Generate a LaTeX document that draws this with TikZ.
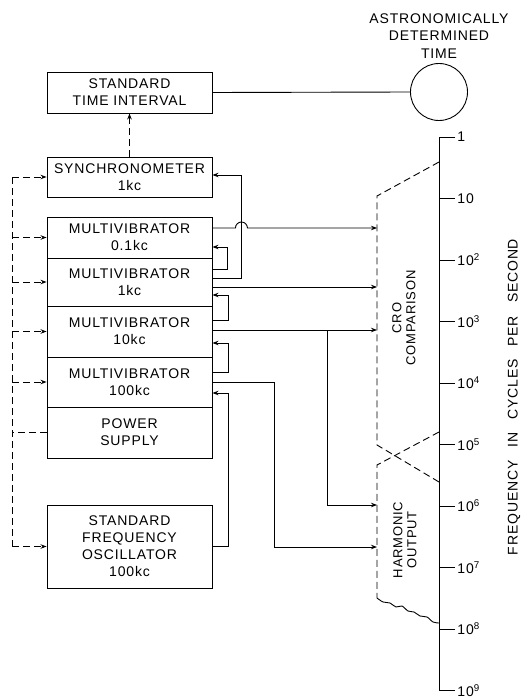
\documentclass[tikz,border=0pt]{standalone}
\usepackage{fontspec}
\newfontfamily\drafting{Liberation Sans}[LetterSpace=6]
\usetikzlibrary{arrows.meta,positioning,calc}

\begin{document}
\begin{tikzpicture}[x=1pt, y=-1pt, line width=0.9pt,
    >={Stealth[length=6pt,width=4.5pt]},
    every node/.style={font=\drafting\fontsize{14}{17}\selectfont},
    blockbox/.style={draw, rectangle, minimum width=165pt, inner sep=0pt, align=center},
    dashline/.style={dash pattern=on 7pt off 4pt},
    regionlabel/.style={rotate=90, align=center, font=\drafting\fontsize{13}{14}\selectfont}]
    \useasboundingbox (0,0) rectangle (524,698);

    % blocks
    \node[blockbox, minimum height=41pt] (sti) at (129.5,92.5) {STANDARD\\TIME INTERVAL};
    \node[blockbox, minimum height=40pt] (sync) at (129.5,177) {SYNCHRONOMETER\\1kc};
    \node[blockbox, minimum height=41pt] (mv01) at (129.5,237.5) {MULTIVIBRATOR\\0.1kc};
    \node[blockbox, minimum height=48pt] (mv1) at (129.5,282) {MULTIVIBRATOR\\1kc};
    \node[blockbox, minimum height=51pt] (mv10) at (129.5,331.5) {MULTIVIBRATOR\\10kc};
    \node[blockbox, minimum height=50pt] (mv100) at (129.5,382) {MULTIVIBRATOR\\100kc};
    \node[blockbox, minimum height=51pt] (power) at (129.5,432.5) {POWER\\SUPPLY};
    \node[blockbox, minimum height=83pt] (osc) at (129.5,546.5) {STANDARD\\FREQUENCY\\OSCILLATOR\\100kc};

    \node[draw, circle, minimum size=57pt] (astro) at (439,92) {};
    \node[align=center, above=1pt of astro, font=\drafting\fontsize{14}{17.5}\selectfont] (astrolabel) {ASTRONOMICALLY\\DETERMINED\\TIME};

    \draw (sti.east) -- (astro.west);
    \draw[dashline,->] (sync.north) -- (sti.south);

    % power distribution
    \coordinate (bus) at (12,0);
    \draw[dashline] (bus |- sync.west) -- (bus |- osc.west);
    \foreach \b in {sync,mv01,mv1,mv10,mv100,osc}
        \draw[dashline,->] (bus |- \b.west) -- (\b.west);
    \draw[dashline] (power.west) -- (bus |- power.west);

    % frequency scale
    \draw (455,137) -- (439,137) -- (439,690) -- (455,690);
    \foreach \lab [count=\i from 0] in {1,10,10\textsuperscript{2},10\textsuperscript{3},10\textsuperscript{4},10\textsuperscript{5},10\textsuperscript{6},10\textsuperscript{7},10\textsuperscript{8},10\textsuperscript{9}}
        \draw (439,{137+61.5*\i}) -- ++(16,0) node[right=1pt, inner sep=1pt] (tick\i) {\lab};
    \node[rotate=90] (freqlabel) at (514,397) {FREQUENCY\hspace{13pt}IN\hspace{13pt}CYCLES\hspace{13pt}PER\hspace{13pt}SECOND};

    % comparison regions
    \coordinate (crotop) at (439,162);
    \coordinate (crotl) at (377,196);
    \coordinate (crobl) at (377,445);
    \coordinate (crobr) at (439,482);
    \draw[dashline] (crotop) -- (crotl) -- (crobl) -- (crobr);
    \coordinate (hartop) at (439,432);
    \coordinate (hartl) at (377,465);
    \coordinate (harbl) at (377,598);
    \coordinate (harbr) at (439,623);
    \draw[dashline] (hartop) -- (hartl) -- (harbl);
    \draw plot[smooth] coordinates {(harbl) (383,602) (390,603) (396,607) (402,606) (408,611) (414,612) (420,616) (427,617) (433,622) (harbr)};
    \node[regionlabel] (crolabel) at (404,318) {CRO\\COMPARISON};
    \node[regionlabel] (harmlabel) at (405,540) {HARMONIC\\OUTPUT};
    \coordinate (h10) at (377,505);
    \coordinate (h100) at (377,547);

    % taps on the blocks
    \coordinate (o01) at ([yshift=9.5pt]mv01.east);
    \coordinate (i01) at ([yshift=-9.5pt]mv01.east);
    \coordinate (s1) at ([yshift=13pt]mv1.east);
    \coordinate (q1) at ([yshift=4pt]mv1.east);
    \coordinate (o1) at ([yshift=-5pt]mv1.east);
    \coordinate (i1) at ([yshift=-13pt]mv1.east);
    \coordinate (s10) at ([yshift=11.5pt]mv10.east);
    \coordinate (o10) at ([yshift=1.5pt]mv10.east);
    \coordinate (i10) at ([yshift=-11.5pt]mv10.east);
    \coordinate (s100) at ([yshift=10pt]mv100.east);
    \coordinate (o100) at (mv100.east);
    \coordinate (i100) at ([yshift=-11pt]mv100.east);

    % divider chain
    \draw[->] (s1) -- ++(15,0) |- (i01);
    \draw[->] (s10) -- ++(16,0) |- (i1);
    \draw[->] (s100) -- ++(16,0) |- (i10);
    \draw[->] (osc.east) -- ++(16,0) |- (i100);
    \draw[->] (q1) -- ++(29,0) |- ([yshift=2pt]sync.east);

    % outputs
    \draw[->] (o01) -- ++(23,0) arc[start angle=180, end angle=0, radius=6pt] -- (crotl |- o01);
    \draw[->] (o1) -- (crotl |- o1);
    \draw[->] (o10) -- (crotl |- o10);
    \draw[->] ($(o10)+(115,0)$) |- (h10);
    \draw[->] (o100) -- ++(62,0) |- (h100);
\end{tikzpicture}
\end{document}
